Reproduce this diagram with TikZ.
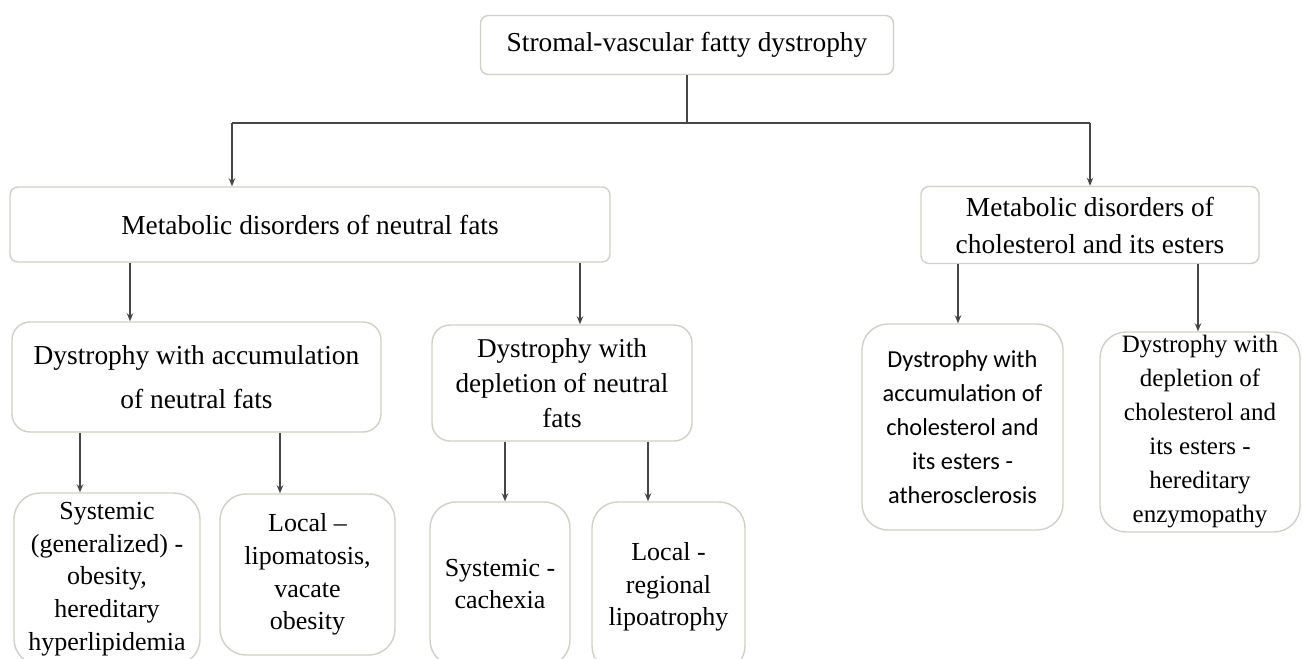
\documentclass[tikz,border=0pt]{standalone}
\usepackage{fontspec}
\setmainfont{Liberation Serif}
\newfontfamily\calib{Carlito}
\usetikzlibrary{arrows.meta}
\definecolor{boxline}{RGB}{206,210,196}
\definecolor{arrline}{RGB}{70,70,70}
\begin{document}
\begin{tikzpicture}
  [x=0.5pt,y=-0.5pt,
   every node/.style={draw=boxline,line width=0.7pt,fill=white,align=center,inner sep=0pt,
     font=\fontsize{13.7}{18.5}\selectfont},
   box/.style={rounded corners=4pt},
   midbox/.style={rounded corners=9pt},
   leafbox/.style={rounded corners=13pt,font=\fontsize{13}{16.3}\selectfont},
   arr/.style={draw=arrline,line width=0.7pt,-{Stealth[length=4pt,width=3.2pt]}},
   link/.style={draw=arrline,line width=0.7pt}]
  \useasboundingbox (0,0) rectangle (1303,659);
  \node[box,minimum width=206.5pt,minimum height=29.5pt] (top) at (687,45) {Stromal-vascular fatty dystrophy};
  \node[box,minimum width=300pt,minimum height=37.5pt] (neutral) at (310,224.5) {Metabolic disorders of neutral fats};
  \node[box,minimum width=169pt,minimum height=38.5pt] (chol) at (1090,225) {Metabolic disorders of\\cholesterol and its esters};
  \node[midbox,minimum width=184.5pt,minimum height=55pt,font=\fontsize{13.7}{22}\selectfont] (accum) at (196.5,377) {Dystrophy with accumulation\\of neutral fats};
  \node[midbox,minimum width=130pt,minimum height=58pt,font=\fontsize{13.6}{17.5}\selectfont] (deplet) at (562,383) {Dystrophy with\\depletion of neutral\\fats};
  \node[leafbox,minimum width=100.5pt,minimum height=103pt,font=\calib\fontsize{12.2}{17}\selectfont] (cholacc) at (962.5,427) {Dystrophy with\\accumulation of\\cholesterol and\\its esters -\\atherosclerosis};
  \node[leafbox,minimum width=100pt,minimum height=100pt,font=\fontsize{12.5}{17}\selectfont] (choldep) at (1200,432) {Dystrophy with\\depletion of\\cholesterol and\\its esters -\\hereditary\\enzymopathy};
  \node[leafbox,minimum width=93pt,minimum height=86pt] (sysgen) at (107,579) {Systemic\\(generalized) -\\obesity,\\hereditary\\hyperlipidemia};
  \node[leafbox,minimum width=87.5pt,minimum height=80.5pt] (locfat) at (307.5,574.5) {Local --\\lipomatosis,\\vacate\\obesity};
  \node[leafbox,minimum width=70pt,minimum height=82pt] (syscach) at (500,584) {Systemic -\\cachexia};
  \node[leafbox,minimum width=76.5pt,minimum height=85pt] (locatr) at (668.5,587) {Local -\\regional\\lipoatrophy};
  \coordinate (bl) at (232,123);
  \coordinate (br) at (1090,123);
  \draw[link] (top.south) -- (top.south |- bl);
  \draw[link] (bl) -- (br);
  \draw[arr] (bl) -- (bl |- neutral.north);
  \draw[arr] (br) -- (chol.north);
  \foreach \from/\to/\x in {neutral/accum/130,neutral/deplet/580,accum/sysgen/80,accum/locfat/280,
      deplet/syscach/505,deplet/locatr/648,chol/cholacc/958,chol/choldep/1198}
    \draw[arr] (\from.south -| \x,0) -- (\to.north -| \x,0);
\end{tikzpicture}
\end{document}
